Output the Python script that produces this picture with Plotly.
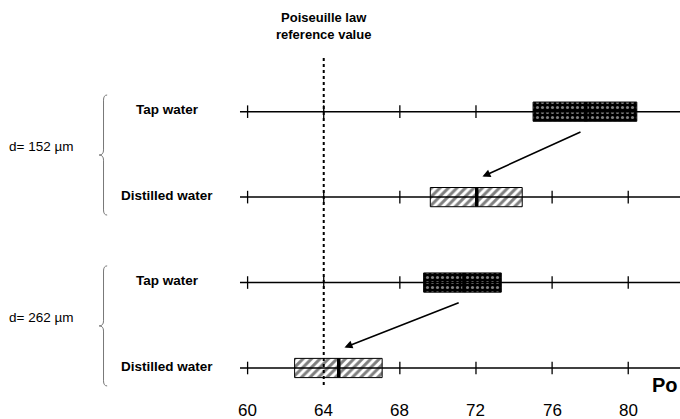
import plotly.graph_objects as go

# Poiseuille number measurements: interval (low/high) and median per condition
conditions = ["Tap water", "Distilled water", "Tap water", "Distilled water"]
groups = ["d= 152 \u00b5m", "d= 152 \u00b5m", "d= 262 \u00b5m", "d= 262 \u00b5m"]
rows = [3, 2, 1, 0]
po_low = [75.0, 69.6, 69.25, 62.47]
po_high = [80.45, 74.43, 73.33, 67.07]
po_median = [77.77, 72.04, 71.37, 64.79]
water = ["tap", "distilled", "tap", "distilled"]

tick_values = [60, 64, 68, 72, 76, 80]
poiseuille_ref = 64

X_RANGE = [46.99, 82.72]
Y_RANGE = [-0.597, 4.307]
LINE_START, LINE_END = 59.6, 84.0
BOX_H = 0.225

fig = go.Figure()

# boxes: dotted fill for tap water, hatched for distilled water
for kind, color, pat in [("tap", "black", dict(shape=".", fgcolor="white", bgcolor="black", size=5, solidity=0.3)),
                         ("distilled", "white", dict(shape="/", fgcolor="black", bgcolor="white", size=6, solidity=0.5))]:
    idx = [i for i, w in enumerate(water) if w == kind]
    fig.add_trace(go.Bar(
        orientation="h",
        y=[rows[i] for i in idx],
        base=[po_low[i] for i in idx],
        x=[po_high[i] - po_low[i] for i in idx],
        width=BOX_H,
        marker=dict(color=color, pattern=pat, line=dict(color="black", width=1)),
        showlegend=False, hoverinfo="skip",
    ))

# horizontal scale line for each condition
for r in rows:
    fig.add_trace(go.Scatter(x=[LINE_START, LINE_END], y=[r, r], mode="lines",
                             line=dict(color="black", width=1.5),
                             showlegend=False, hoverinfo="skip"))

# small tick marks on each line (hidden where a box covers them)
tx, ty = [], []
for r, lo, hi in zip(rows, po_low, po_high):
    for t in tick_values:
        if not (lo <= t <= hi):
            tx.append(t)
            ty.append(r)
fig.add_trace(go.Scatter(x=tx, y=ty, mode="markers",
                         marker=dict(symbol="line-ns", size=9, line=dict(color="black", width=1.3)),
                         showlegend=False, hoverinfo="skip"))

# median markers
for r, m in zip(rows, po_median):
    fig.add_trace(go.Scatter(x=[m, m], y=[r - BOX_H / 2, r + BOX_H / 2], mode="lines",
                             line=dict(color="black", width=3.5),
                             showlegend=False, hoverinfo="skip"))

shapes = []
# Poiseuille law reference line
shapes.append(dict(type="line", xref="x", yref="y", x0=poiseuille_ref, x1=poiseuille_ref,
                   y0=-0.2, y1=3.63, line=dict(color="black", width=2, dash="dot")))

# curly braces grouping the two conditions of each diameter
annotations = []
xv, xh, xt = 52.43, 52.62, 52.20
for top_row, bot_row, label in [(rows[0], rows[1], groups[0]), (rows[2], rows[3], groups[2])]:
    top = top_row + 0.195
    bot = bot_row - 0.21
    mid = (top + bot) / 2
    d = 0.06
    path = (f"M {xh},{top} Q {xv},{top} {xv},{top - d} L {xv},{mid + d} "
            f"Q {xv},{mid} {xt},{mid} Q {xv},{mid} {xv},{mid - d} "
            f"L {xv},{bot + d} Q {xv},{bot} {xh},{bot}")
    shapes.append(dict(type="path", xref="x", yref="y", path=path,
                       line=dict(color="#777777", width=1)))
    annotations.append(dict(x=0.01, y=mid + 0.1, xref="paper", yref="y", text=label,
                            showarrow=False, xanchor="left",
                            font=dict(family="Liberation Sans", size=13.5, color="black")))

# condition labels
for r, c in zip(rows, conditions):
    annotations.append(dict(x=167 / 680, y=r + 0.02, xref="paper", yref="y",
                            text=f"<b>{c}</b>", showarrow=False, xanchor="center",
                            font=dict(family="Liberation Sans", size=13.5, color="black")))

# arrows from tap water to distilled water
for i_tap, i_dist in [(0, 1), (2, 3)]:
    annotations.append(dict(
        x=po_median[i_dist] + 0.3, y=rows[i_dist] + 0.24, xref="x", yref="y",
        ax=po_median[i_tap] - 0.2, ay=rows[i_tap] - 0.23, axref="x", ayref="y",
        text="", showarrow=True, arrowhead=2, arrowsize=1.0, arrowwidth=1.6,
        arrowcolor="black"))

# reference value label
annotations.append(dict(x=poiseuille_ref, y=Y_RANGE[1] - 26 / 85.43, xref="x", yref="y",
                        text="<b>Poiseuille law<br>reference value</b>", showarrow=False,
                        font=dict(family="Liberation Sans", size=13, color="black")))

# scale labels
for t in tick_values:
    annotations.append(dict(x=t, y=-0.493, xref="x", yref="y", text=str(t),
                            showarrow=False,
                            font=dict(family="Liberation Sans", size=17, color="black")))

# axis title
annotations.append(dict(x=1.0, y=-0.2, xref="paper", yref="y",
                        text="<b>Po</b>", showarrow=False, xanchor="right",
                        font=dict(family="Liberation Sans", size=20, color="black")))

fig.update_layout(
    width=680, height=419,
    margin=dict(l=0, r=0, t=0, b=0),
    paper_bgcolor="white", plot_bgcolor="white",
    barmode="overlay",
    xaxis=dict(range=X_RANGE, visible=False, fixedrange=True),
    yaxis=dict(range=Y_RANGE, visible=False, fixedrange=True),
    shapes=shapes, annotations=annotations,
    showlegend=False,
)

fig.write_html("out.html")
